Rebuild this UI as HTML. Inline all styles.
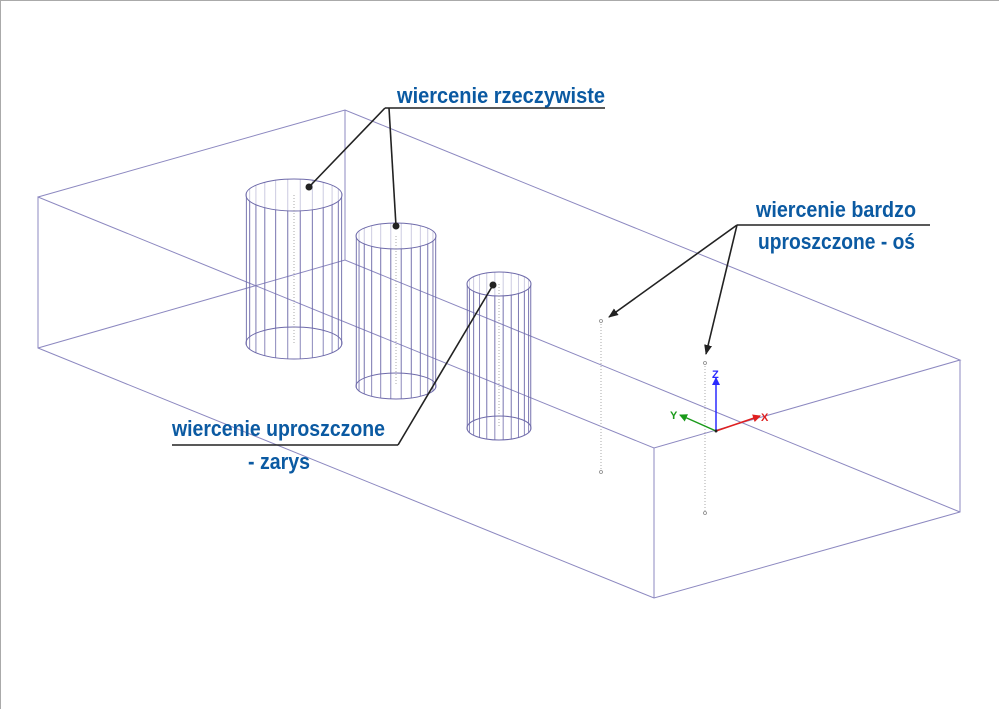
<!DOCTYPE html>
<html><head><meta charset="utf-8"><style>
html,body{margin:0;padding:0;background:#fff;width:999px;height:709px;overflow:hidden}
svg{display:block}
.t{font-family:"Liberation Sans",sans-serif;font-weight:bold;font-size:22px;fill:#0b5aa2}
</style></head><body>
<svg id="s" width="999" height="709" viewBox="0 0 999 709" xmlns="http://www.w3.org/2000/svg">
<defs><marker id="ar" markerWidth="10" markerHeight="8" refX="9" refY="4" orient="auto" markerUnits="userSpaceOnUse"><path d="M0,0 L10,4 L0,8 Z" fill="#222"/></marker>
<marker id="az" markerWidth="8" markerHeight="8" refX="7" refY="4" orient="auto" markerUnits="userSpaceOnUse"><path d="M0,0 L8,4 L0,8 Z" fill="context-stroke"/></marker></defs>
<rect x="0.5" y="0.5" width="1000" height="720" fill="none" stroke="#aaa"/>
<g stroke="#8c88c0" stroke-width="1" fill="none">
<polyline points="38,197 345,110 960,360 654,448 38,197 38,348 654,598 960,512 960,360"/>
<line x1="654" y1="448" x2="654" y2="598"/>
<polyline points="345,110 345,260"/>
<polyline points="38,348 345,260 960,512"/>
</g>
<g id="cyl" stroke="#6e6aaa" stroke-width="1" fill="none"></g>
<g stroke="#aaa" stroke-width="1" stroke-dasharray="1,2">
<line x1="601" y1="321" x2="601" y2="472"/><line x1="705" y1="363" x2="705" y2="513"/>
</g>
<g fill="#fff" stroke="#888" stroke-width="0.8">
<circle cx="601" cy="321" r="1.5"/><circle cx="601" cy="472" r="1.5"/><circle cx="705" cy="363" r="1.5"/><circle cx="705" cy="513" r="1.5"/>
</g>
<line x1="716" y1="431" x2="716" y2="378" stroke="#2a2aff" stroke-width="1.5" marker-end="url(#az)"/>
<line x1="716" y1="431" x2="680" y2="415" stroke="#1a9a1a" stroke-width="1.5" marker-end="url(#az)"/>
<line x1="716" y1="431" x2="760" y2="416" stroke="#e02020" stroke-width="1.5" marker-end="url(#az)"/>
<text x="712" y="378" font-family="Liberation Sans,sans-serif" font-weight="bold" font-size="11" fill="#2a2aff">Z</text>
<text x="670" y="419" font-family="Liberation Sans,sans-serif" font-weight="bold" font-size="11" fill="#1a9a1a">Y</text>
<text x="761" y="421" font-family="Liberation Sans,sans-serif" font-weight="bold" font-size="11" fill="#e02020">X</text>
<circle cx="716" cy="431" r="1.5" fill="#222"/>
<g stroke="#222" stroke-width="1.6" fill="none">
<line x1="385" y1="108" x2="605" y2="108"/>
<line x1="385" y1="108" x2="309" y2="187"/>
<line x1="389" y1="108" x2="396" y2="226"/>
<line x1="172" y1="445" x2="398" y2="445"/>
<line x1="398" y1="445" x2="493" y2="285"/>
<line x1="737" y1="225" x2="930" y2="225"/>
<line x1="737" y1="225" x2="609" y2="317" marker-end="url(#ar)"/>
<line x1="737" y1="225" x2="706" y2="354" marker-end="url(#ar)"/>
</g>
<g fill="#222"><circle cx="309" cy="187" r="3.5"/><circle cx="396" cy="226" r="3.5"/><circle cx="493" cy="285" r="3.5"/></g>
<text class="t" x="397" y="103" textLength="208" lengthAdjust="spacingAndGlyphs">wiercenie rzeczywiste</text>
<text class="t" x="172" y="436" textLength="213" lengthAdjust="spacingAndGlyphs">wiercenie uproszczone</text>
<text class="t" x="248" y="469" textLength="62" lengthAdjust="spacingAndGlyphs">- zarys</text>
<text class="t" x="756" y="217" textLength="160" lengthAdjust="spacingAndGlyphs">wiercenie bardzo</text>
<text class="t" x="758" y="249" textLength="157" lengthAdjust="spacingAndGlyphs">uproszczone - oś</text>
</svg>
<script>
var g=document.getElementById('cyl'),NS='http://www.w3.org/2000/svg';
function el(n,a){var e=document.createElementNS(NS,n);for(var k in a)e.setAttribute(k,a[k]);g.appendChild(e);}
[[294,48,16,195,343],[396,40,13,236,386],[499,32,12,284,428]].forEach(function(c){
var cx=c[0],rx=c[1],ry=c[2],t=c[3],b=c[4];
el('ellipse',{cx:cx,cy:t,rx:rx,ry:ry});el('ellipse',{cx:cx,cy:b,rx:rx,ry:ry});
for(var i=0;i<24;i++){var a=(i+0.5)/24*2*Math.PI;if(Math.sin(a)<0)continue;var x=cx+rx*Math.cos(a),y=ry*Math.sin(a);
el('line',{x1:x,y1:t+y,x2:x,y2:b+y,'stroke-opacity':0.8});}
for(var i=0;i<24;i++){var a=(i+0.5)/24*2*Math.PI;if(Math.sin(a)>=0)continue;var x=cx+rx*Math.cos(a),y=ry*Math.sin(a);
el('line',{x1:x,y1:t+y,x2:x,y2:b+y,'stroke-opacity':0.35});}
el('line',{x1:cx,y1:t,x2:cx,y2:b,stroke:'#aaa','stroke-dasharray':'1,2'});
});
</script>
</body></html>
